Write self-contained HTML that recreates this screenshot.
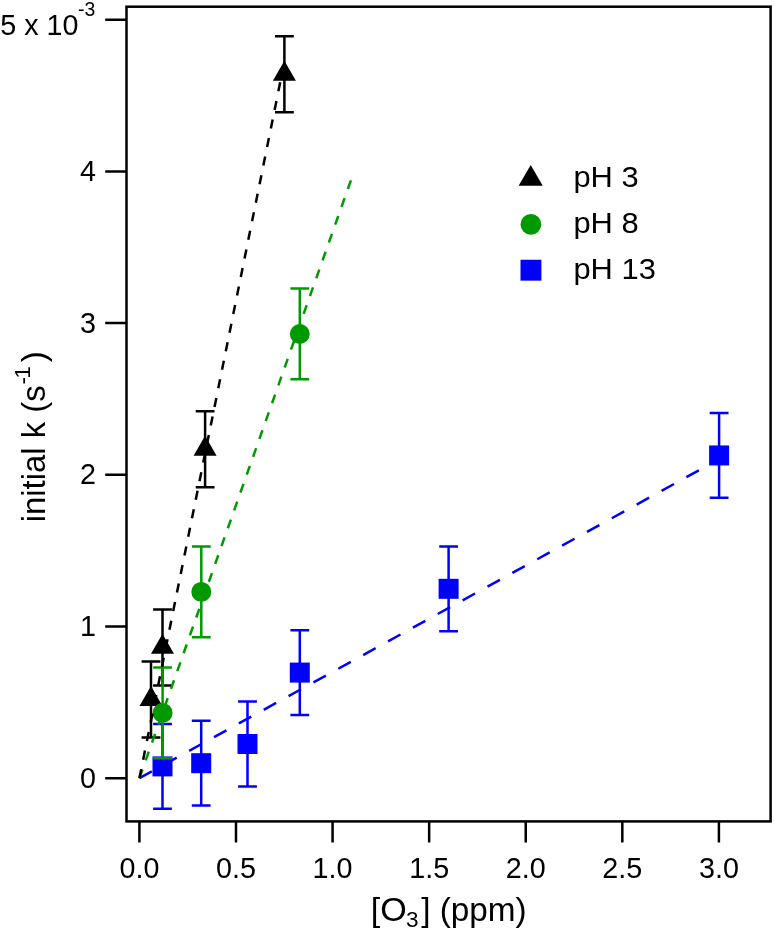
<!DOCTYPE html>
<html lang="en"><head><meta charset="utf-8"><title>initial k vs [O3]</title>
<style>html,body{margin:0;padding:0;background:#fff}svg{display:block}svg{will-change:transform}text{font-family:"Liberation Sans",sans-serif;fill:#000}</style></head><body>
<svg width="774" height="931" viewBox="0 0 774 931">
<rect x="0" y="0" width="774" height="931" fill="#fff"/>
<line x1="139.4" y1="778.2" x2="718.9" y2="459.3" stroke="#0000ff" stroke-width="2.5" stroke-dasharray="14.2 14.18"/>
<path d="M162.5 724V808.8M153.1 724H171.9M153.1 808.8H171.9" stroke="#0000ff" stroke-width="2.5" fill="none"/>
<path d="M201.2 720.8V805.6M191.8 720.8H210.6M191.8 805.6H210.6" stroke="#0000ff" stroke-width="2.5" fill="none"/>
<path d="M247.5 701.6V786.4M238.1 701.6H256.9M238.1 786.4H256.9" stroke="#0000ff" stroke-width="2.5" fill="none"/>
<path d="M299.8 630.2V715M290.4 630.2H309.2M290.4 715H309.2" stroke="#0000ff" stroke-width="2.5" fill="none"/>
<path d="M448.6 546.4V631.2M439.2 546.4H458M439.2 631.2H458" stroke="#0000ff" stroke-width="2.5" fill="none"/>
<path d="M719.1 413.05V497.85M709.7 413.05H728.5M709.7 497.85H728.5" stroke="#0000ff" stroke-width="2.5" fill="none"/>
<rect x="152.5" y="756.4" width="20" height="20" fill="#0000ff"/>
<rect x="191.2" y="753.2" width="20" height="20" fill="#0000ff"/>
<rect x="237.5" y="734" width="20" height="20" fill="#0000ff"/>
<rect x="289.8" y="662.6" width="20" height="20" fill="#0000ff"/>
<rect x="438.6" y="578.8" width="20" height="20" fill="#0000ff"/>
<rect x="709.1" y="445.45" width="20" height="20" fill="#0000ff"/>
<path d="M151 661.5V737.5M141.6 661.5H160.4M141.6 737.5H160.4" stroke="#000000" stroke-width="2.5" fill="none"/>
<path d="M162.5 609.4V685.4M153.1 609.4H171.9M153.1 685.4H171.9" stroke="#000000" stroke-width="2.5" fill="none"/>
<path d="M205.1 411.35V487.35M195.7 411.35H214.5M195.7 487.35H214.5" stroke="#000000" stroke-width="2.5" fill="none"/>
<path d="M284.4 36.35V112.35M275 36.35H293.8M275 112.35H293.8" stroke="#000000" stroke-width="2.5" fill="none"/>
<path d="M151 685.9L162.5 705.9H139.5Z" fill="#000000"/>
<path d="M162.5 633.8L174 653.8H151Z" fill="#000000"/>
<path d="M205.1 435.75L216.6 455.75H193.6Z" fill="#000000"/>
<path d="M284.4 60.75L295.9 80.75H272.9Z" fill="#000000"/>
<line x1="139.4" y1="778.2" x2="350.9" y2="180.3" stroke="#009900" stroke-width="2.5" stroke-dasharray="9.2 9.74"/>
<path d="M162.6 667.5V758.3M153.2 667.5H172M153.2 758.3H172" stroke="#009900" stroke-width="2.5" fill="none"/>
<path d="M201.3 546.5V637.3M191.9 546.5H210.7M191.9 637.3H210.7" stroke="#009900" stroke-width="2.5" fill="none"/>
<path d="M299.8 288.55V379.35M290.4 288.55H309.2M290.4 379.35H309.2" stroke="#009900" stroke-width="2.5" fill="none"/>
<circle cx="162.6" cy="712.9" r="9.95" fill="#009900"/>
<circle cx="201.3" cy="591.9" r="9.95" fill="#009900"/>
<circle cx="299.8" cy="333.95" r="9.95" fill="#009900"/>
<line x1="139.4" y1="778.2" x2="281.86" y2="74" stroke="#000000" stroke-width="2.5" stroke-dasharray="9.2 9.74"/>
<rect x="126.5" y="6.7" width="644.1" height="814.7" fill="none" stroke="#000" stroke-width="2.5"/>
<path d="M105.2 778.2H126.5M105.2 626.5H126.5M105.2 474.8H126.5M105.2 323.1H126.5M105.2 171.4H126.5M105.2 19.7H126.5M139.4 821.4V842.5M235.99 821.4V842.5M332.57 821.4V842.5M429.15 821.4V842.5M525.74 821.4V842.5M622.32 821.4V842.5M718.91 821.4V842.5" stroke="#000" stroke-width="2.5" fill="none"/>
<text transform="translate(96 787.8) scale(0.98 1)" font-size="29.3" text-anchor="end">0</text>
<text transform="translate(96 636.1) scale(0.98 1)" font-size="29.3" text-anchor="end">1</text>
<text transform="translate(96 484.4) scale(0.98 1)" font-size="29.3" text-anchor="end">2</text>
<text transform="translate(96 332.7) scale(0.98 1)" font-size="29.3" text-anchor="end">3</text>
<text transform="translate(96 181) scale(0.98 1)" font-size="29.3" text-anchor="end">4</text>
<text transform="translate(0.3 34.9) scale(0.98 1)" font-size="29.3" text-anchor="start">5 x 10</text>
<text transform="translate(78 15.9) scale(0.98 1)" font-size="19.8" text-anchor="start">-3</text>
<text transform="translate(139.4 878.3) scale(0.98 1)" font-size="29.3" text-anchor="middle">0.0</text>
<text transform="translate(235.99 878.3) scale(0.98 1)" font-size="29.3" text-anchor="middle">0.5</text>
<text transform="translate(332.57 878.3) scale(0.98 1)" font-size="29.3" text-anchor="middle">1.0</text>
<text transform="translate(429.15 878.3) scale(0.98 1)" font-size="29.3" text-anchor="middle">1.5</text>
<text transform="translate(525.74 878.3) scale(0.98 1)" font-size="29.3" text-anchor="middle">2.0</text>
<text transform="translate(622.32 878.3) scale(0.98 1)" font-size="29.3" text-anchor="middle">2.5</text>
<text transform="translate(718.91 878.3) scale(0.98 1)" font-size="29.3" text-anchor="middle">3.0</text>
<text transform="translate(370.74 920.6) scale(1.048 1)" font-size="32.5">[O</text>
<text transform="translate(406.05 926.8) scale(1.048 1)" font-size="21.5">3</text>
<text transform="translate(421.14 920.6) scale(1.026 1)" font-size="32.5">] (ppm)</text>
<text transform="translate(45 522.3) rotate(-90) scale(1.012 1)" font-size="32.5">initial k (s</text>
<text transform="translate(29.8 384.5) rotate(-90) scale(1.012 1)" font-size="22.5">-</text>
<text transform="translate(29.8 378.8) rotate(-90) scale(1.012 1)" font-size="22.5">1</text>
<text transform="translate(45 362.3) rotate(-90) scale(1.012 1)" font-size="32.5">)</text>
<path d="M530.7 164.9L542.75 185.7H518.65Z" fill="#000000"/>
<circle cx="530.9" cy="224.4" r="10.4" fill="#009900"/>
<rect x="520.5" y="259.75" width="20.9" height="20.9" fill="#0000ff"/>
<text transform="translate(573.4 187.4) scale(1.03 1)" font-size="30" text-anchor="start">pH 3</text>
<text transform="translate(573.4 233.2) scale(1.03 1)" font-size="30" text-anchor="start">pH 8</text>
<text transform="translate(573.4 279.1) scale(1.03 1)" font-size="30" text-anchor="start">pH 13</text>
</svg></body></html>
